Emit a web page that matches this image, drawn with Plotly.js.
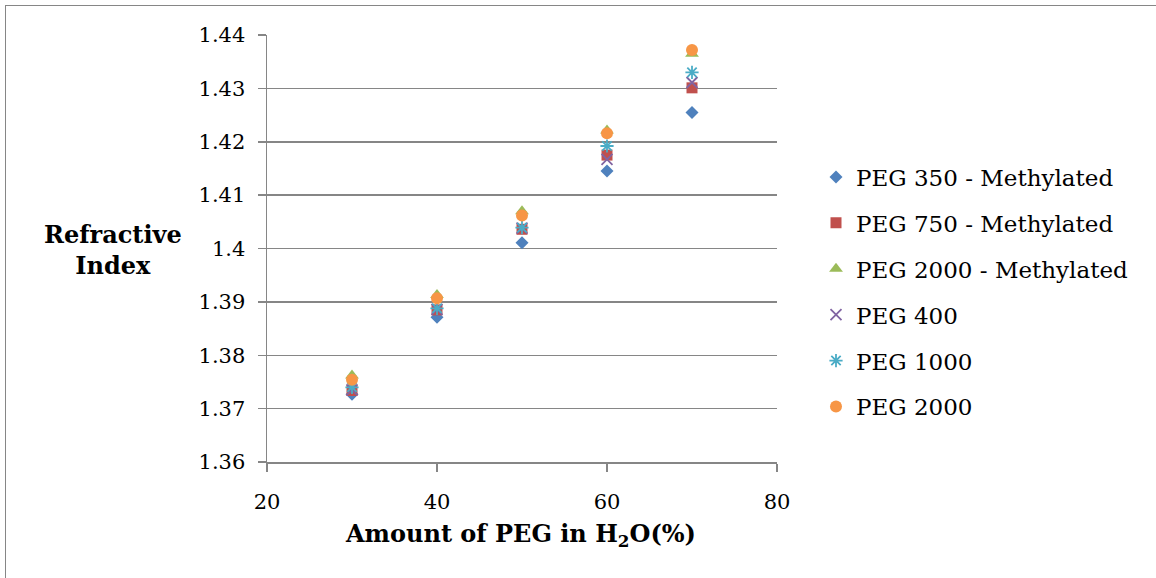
<!DOCTYPE html>
<html>
<head>
<meta charset="utf-8">
<script src="https://cdn.plot.ly/plotly-3.0.1.min.js"></script>
<style>
html,body{margin:0;padding:0;background:#fff;}
#chart{width:1156px;height:578px;}
</style>
</head>
<body>
<div id="chart"></div>
<script>
const xValues = [30, 40, 50, 60, 70];
const peg350Methylated = [1.3727, 1.3871, 1.4011, 1.4145, 1.4255];
const peg750Methylated = [1.3734, 1.3885, 1.4036, 1.4175, 1.4301];
const peg2000Methylated = [1.3762, 1.3913, 1.4070, 1.4221, 1.4365];
const peg400 = [1.3735, 1.3886, 1.4038, 1.4167, 1.4311];
const peg1000 = [1.3740, 1.3888, 1.4039, 1.4192, 1.4330];
const peg2000 = [1.3754, 1.3907, 1.4062, 1.4216, 1.4372];
const seriesNames = ["PEG 350 - Methylated", "PEG 750 - Methylated", "PEG 2000 - Methylated", "PEG 400", "PEG 1000", "PEG 2000"];
const yTickVals = [1.36, 1.37, 1.38, 1.39, 1.4, 1.41, 1.42, 1.43, 1.44];
const yTickText = ["1.36", "1.37", "1.38", "1.39", "1.4", "1.41", "1.42", "1.43", "1.44"];
const xTickVals = [20, 40, 60, 80];
const xTitle = "<b>Amount of PEG in H<sub>2</sub>O(%)</b>";
const yTitle = "<b>Refractive<br>Index</b>";

const seriesData = [peg350Methylated, peg750Methylated, peg2000Methylated, peg400, peg1000, peg2000];
const styles = [
  {symbol: "diamond", color: "#4F81BD", size: 10},
  {symbol: "square", color: "#C0504D", size: 11},
  {symbol: "triangle-up", color: "#9BBB59", size: 12},
  {symbol: "x-thin-open", color: "#8064A2", size: 11, lw: 1.8},
  {symbol: "asterisk-open", color: "#4BACC6", size: 11, lw: 1.8},
  {symbol: "circle", color: "#F79646", size: 12}
];

const FONT = "Georgia, 'DejaVu Serif', serif";

const traces = seriesData.map((ys, i) => ({
  type: "scatter",
  mode: "markers",
  x: xValues,
  y: ys,
  name: seriesNames[i],
  legendgroup: "g" + i,
  marker: {
    symbol: styles[i].symbol,
    color: styles[i].color,
    size: styles[i].size,
    line: {color: styles[i].color, width: styles[i].lw || 0}
  }
}));

const W = 1156, H = 578;
const mL = 267, mR = W - 777, mT = 35, mB = H - 462;
const pw = W - mL - mR, ph = H - mT - mB;
const px2x = p => (p - mL) / pw;
const py2y = p => (H - mB - p) / ph;

const layout = {
  width: W, height: H,
  margin: {l: mL, r: mR, t: mT, b: mB, pad: 0},
  paper_bgcolor: "#fff",
  plot_bgcolor: "#fff",
  font: {family: FONT, size: 20, color: "#000"},
  showlegend: true,
  legend: {
    x: px2x(816), xanchor: "left",
    y: py2y(292), yanchor: "middle",
    font: {family: FONT, size: 23, color: "#000"},
    tracegroupgap: 13,
    itemwidth: 30,
    bgcolor: "rgba(0,0,0,0)"
  },
  xaxis: {
    range: [20, 80],
    tickvals: xTickVals,
    ticks: "outside", ticklen: 8, tickwidth: 1.5, tickcolor: "#868686",
    ticklabelstandoff: 12,
    showline: true, linecolor: "#868686", linewidth: 1.5,
    showgrid: false, zeroline: false,
    tickfont: {family: FONT, size: 21}
  },
  yaxis: {
    range: [1.36, 1.44],
    tickvals: yTickVals, ticktext: yTickText,
    ticks: "outside", ticklen: 8, tickwidth: 1.5, tickcolor: "#868686",
    ticklabelstandoff: 8,
    showline: true, linecolor: "#868686", linewidth: 1.5,
    showgrid: true, gridcolor: "#868686", gridwidth: 1.5,
    zeroline: false,
    tickfont: {family: FONT, size: 21}
  },
  annotations: [
    {
      text: yTitle,
      xref: "paper", yref: "paper",
      x: px2x(112.5), y: py2y(250),
      xanchor: "center", yanchor: "middle",
      showarrow: false,
      font: {family: FONT, size: 24, color: "#000"},
      align: "center"
    },
    {
      text: xTitle,
      xref: "paper", yref: "paper",
      x: px2x(520), y: py2y(535),
      xanchor: "center", yanchor: "middle",
      showarrow: false,
      font: {family: FONT, size: 24, color: "#000"}
    }
  ],
  shapes: [
    {type: "line", xref: "paper", yref: "paper", x0: px2x(5), x1: px2x(1160), y0: py2y(5.5), y1: py2y(5.5), line: {color: "#868686", width: 1}},
    {type: "line", xref: "paper", yref: "paper", x0: px2x(5.5), x1: px2x(5.5), y0: py2y(5), y1: py2y(585), line: {color: "#868686", width: 1}}
  ]
};

Plotly.newPlot("chart", traces, layout, {displayModeBar: false, staticPlot: true});
</script>
</body>
</html>
